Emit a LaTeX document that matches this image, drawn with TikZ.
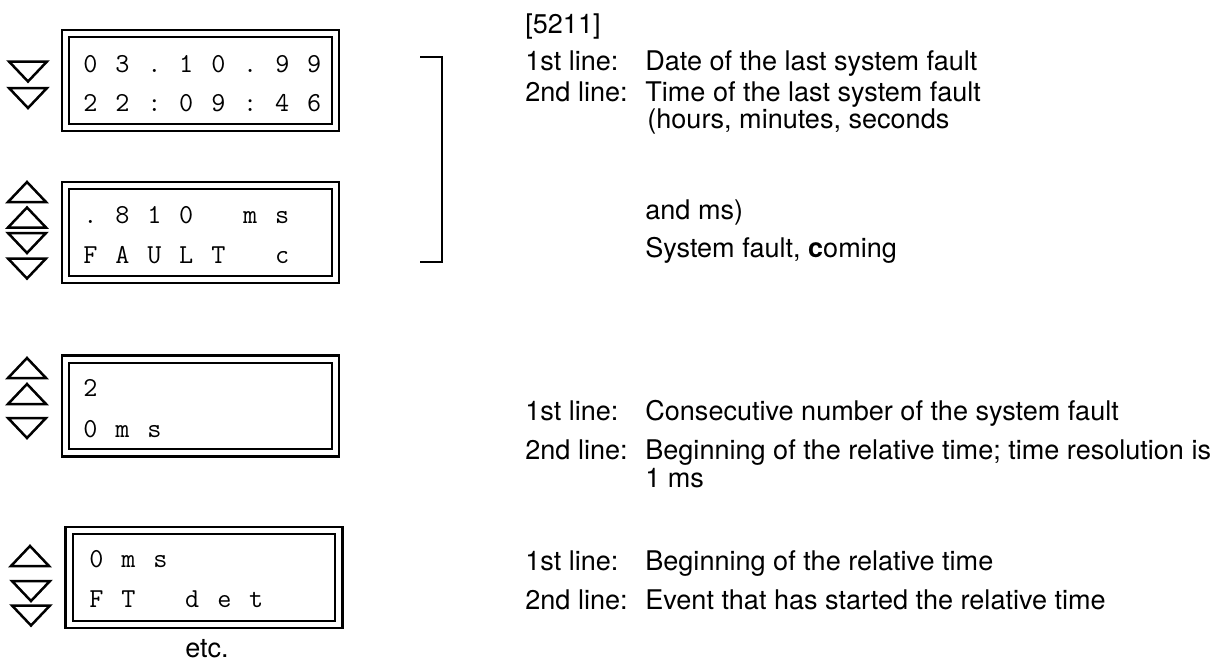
\documentclass[tikz,border=0pt]{standalone}
\usepackage{fontspec}
\setmainfont{TeX Gyre Heros}
\usetikzlibrary{positioning}
% one fixed cell per display character
\newcommand\lcdtext[1]{\lcdcell#1\relax}
\newcommand\lcdcell[1]{\ifx\relax#1\else\makebox[0.64cm]{#1}\expandafter\lcdcell\fi}

\begin{document}
\begin{tikzpicture}[
    x=0.02cm, y=-0.02cm,
    display/.style={rectangle, draw, line width=0.045cm, double, double distance=0.1cm, minimum width=5.4cm, minimum height=1.88cm, inner sep=0pt},
    row/.style={anchor=base west, inner sep=0pt, font=\fontsize{15.6}{18}\selectfont\ttfamily},
    txt/.style={anchor=base west, inner sep=0pt, font=\fontsize{15.4}{18}\selectfont},
    key/.style={line width=0.05cm},
    upkey/.pic={\draw[key] (-19,10) -- (19,10) -- (0,-10) -- cycle;},
    downkey/.pic={\draw[key] (-19,-10) -- (19,-10) -- (0,10) -- cycle;}
]
\useasboundingbox (0,0) rectangle (1223,666);

% displays
\node[display] (d1) at (200.5,80.5) {};
\node[display] (d2) at (200.5,232.5) {};
\node[display] (d3) at (200.5,406) {};
\node[display] (d4) at (204,577.5) {};

\node[row] (d1a) at (74,72) {\lcdtext{03.10.99}};
\node[row] (d1b) at (74,111) {\lcdtext{22:09:46}};
\node[row] (d2a) at (74,223) {\lcdtext{.810~ms}};
\node[row] (d2b) at (74,263) {\lcdtext{FAULT~c}};
\node[row] (d3a) at (74,396) {\lcdtext{2}};
\node[row] (d3b) at (74,437) {\lcdtext{0ms}};
\node[row] (d4a) at (80,567) {\lcdtext{0ms}};
\node[row] (d4b) at (80,607) {\lcdtext{FT~det}};

% keys
\pic at (28,71.5) {downkey};
\pic at (28,98) {downkey};
\pic at (27,192) {upkey};
\pic at (27,217.5) {upkey};
\pic at (27,243) {downkey};
\pic at (27,268.5) {downkey};
\pic at (27,368) {upkey};
\pic at (27,394) {upkey};
\pic at (27,428) {downkey};
\pic at (30,556) {upkey};
\pic at (31,591) {downkey};
\pic at (31,615.5) {downkey};

\node[txt, anchor=base] (etc) at (207,657) {etc.};

% bracket over the first two displays
\draw[key] (420,57) -- (442,57) -- (442,262) -- (420,262);

% explanations
\node[txt] (ref) at (525,33) {[5211]};
\node[txt] (l1a) at (525,70) {1st line:};
\node[txt] (t1a) at (645,70) {Date of the last system fault};
\node[txt] (l1b) at (525,101) {2nd line:};
\node[txt] (t1b) at (645,101) {Time of the last system fault};
\node[txt] (t1c) at (647,128) {(hours, minutes, seconds};
\node[txt] (t1d) at (645,219) {and ms)};
\node[txt] (t1e) at (645,257) {System fault, \textbf{c}oming};

\node[txt] (l3a) at (525,420) {1st line:};
\node[txt] (t3a) at (645,420) {Consecutive number of the system fault};
\node[txt] (l3b) at (525,459) {2nd line:};
\node[txt] (t3b) at (645,459) {Beginning of the relative time; time resolution is};
\node[txt] (t3c) at (645,487) {1 ms};

\node[txt] (l4a) at (525,570) {1st line:};
\node[txt] (t4a) at (645,570) {Beginning of the relative time};
\node[txt] (l4b) at (525,609) {2nd line:};
\node[txt] (t4b) at (645,609) {Event that has started the relative time};
\end{tikzpicture}
\end{document}
